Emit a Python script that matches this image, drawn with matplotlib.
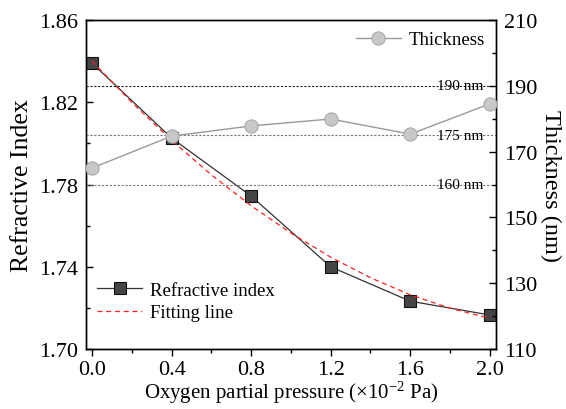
import matplotlib
matplotlib.use('Agg')
from matplotlib import pyplot as plt

plt.rcParams['font.family'] = ['Liberation Serif', 'DejaVu Serif']
plt.rcParams['mathtext.fontset'] = 'custom'
plt.rcParams['mathtext.rm'] = 'Liberation Serif'
plt.rcParams['mathtext.it'] = 'Liberation Serif:italic'

pressure = [0.0, 0.4, 0.8, 1.2, 1.6, 2.0]
refr_index = [1.839, 1.8026, 1.7744, 1.7400, 1.7233, 1.7166]
thickness = [165.0, 174.7, 177.8, 179.9, 175.3, 184.5]

fit_x = [0.0, 0.2, 0.4, 0.6, 0.8, 1.0, 1.2, 1.4, 1.6, 1.8, 2.0]
fit_y = [1.840, 1.8199, 1.8015, 1.7847, 1.7697, 1.7564, 1.7447, 1.7347, 1.7264, 1.7199, 1.7150]

ref_lines = [190, 175, 160]
ref_colors = ['#222222', '#777777', '#777777']

x_major = [0.0, 0.4, 0.8, 1.2, 1.6, 2.0]
x_minor = [0.2, 0.6, 1.0, 1.4, 1.8]
y_major = [1.70, 1.74, 1.78, 1.82, 1.86]
y_minor = [1.72, 1.76, 1.80, 1.84]
y2_major = [110, 130, 150, 170, 190, 210]
y2_minor = [120, 140, 160, 180, 200]

fig = plt.figure(figsize=(5.66, 4.10), dpi=100)
ax = fig.add_axes([0.152, 0.146, 0.724, 0.803])
ax2 = ax.twinx()

l1, = ax.plot(pressure, refr_index, color='#333333', lw=0.9, marker='s', ms=8.5,
              mfc='#454545', mec='#111111', mew=0.8, label='Refractive index')
l2, = ax.plot(fit_x, fit_y, color='#ff2020', lw=0.9, ls=(0, (4, 3)), label='Fitting line')

for v, c in zip(ref_lines, ref_colors):
    ax2.axhline(v, color=c, lw=0.8, ls=(0, (2, 1.5)), zorder=1)
    ax2.text(1.85, v, '%d nm' % v, ha='center', va='center', fontsize=11, zorder=2)

l3, = ax2.plot(pressure, thickness, color='#999999', lw=1.0, marker='o', ms=9.5,
               mfc='#c8c8c8', mec='#aaaaaa', mew=0.8, label='Thickness', zorder=3)

ax.set_xlim(-0.03, 2.03)
ax.set_ylim(1.70, 1.86)
ax2.set_ylim(110, 210)

ax.set_xticks(x_major)
ax.set_xticks(x_minor, minor=True)
ax.set_xticklabels(['%.1f' % t for t in x_major])
ax.set_yticks(y_major)
ax.set_yticks(y_minor, minor=True)
ax.set_yticklabels(['%.2f' % t for t in y_major])
ax2.set_yticks(y2_major)
ax2.set_yticks(y2_minor, minor=True)

ax.tick_params(axis='x', which='both', direction='out', labelsize=16, pad=3)
ax.tick_params(axis='x', which='major', length=5, width=1)
ax.tick_params(axis='x', which='minor', length=3, width=1)
ax.tick_params(axis='y', which='both', direction='in', labelsize=16, pad=6)
ax.tick_params(axis='y', which='major', length=5, width=1)
ax.tick_params(axis='y', which='minor', length=3, width=1)
ax2.tick_params(axis='y', which='both', direction='in', labelsize=16, pad=6)
ax2.tick_params(axis='y', which='major', length=5, width=1)
ax2.tick_params(axis='y', which='minor', length=3, width=1)

for a in (ax, ax2):
    for s in a.spines.values():
        s.set_linewidth(1.0)

ax.set_xlabel('Oxygen partial pressure (×10$^{-2}$ Pa)', fontsize=15, labelpad=0)
ax.set_ylabel('Refractive Index', fontsize=18.5, labelpad=4)
ax2.set_ylabel('Thickness (nm)', fontsize=17.5, rotation=270, va='center')
ax2.yaxis.set_label_coords(1.134, 0.5)

leg1 = ax2.legend(handles=[l1, l2], loc='lower left', bbox_to_anchor=(0.0, 0.05),
                  frameon=False, fontsize=13.5, handlelength=2.4, labelspacing=0.3,
                  borderaxespad=0.2, handletextpad=0.4)
ax2.add_artist(leg1)
ax2.legend(handles=[l3], loc='upper right', frameon=False, fontsize=13.5,
           handlelength=2.4, borderaxespad=0.2, handletextpad=0.4)

fig.savefig('out.png', dpi=100)
